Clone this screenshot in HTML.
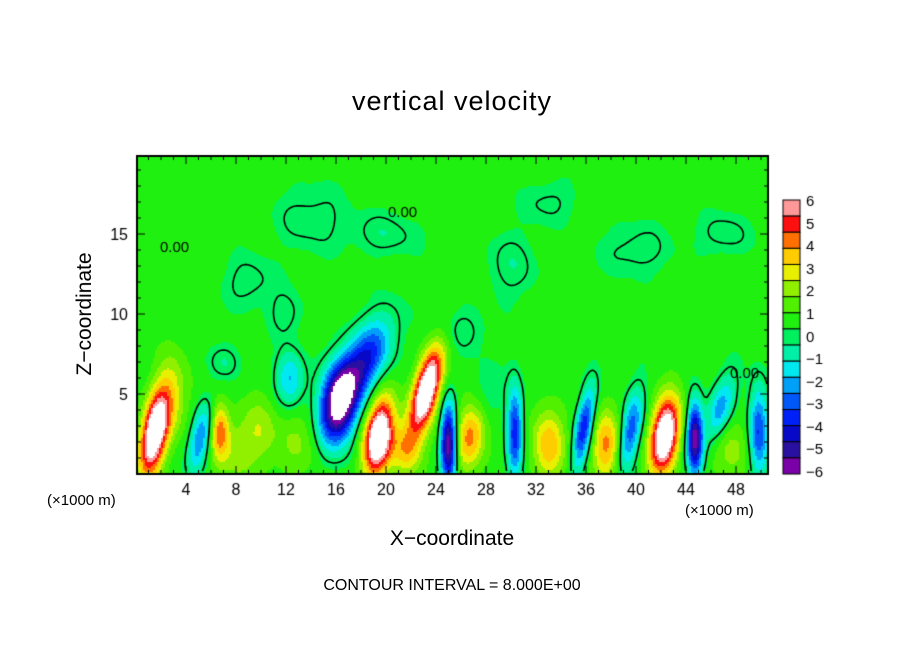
<!DOCTYPE html>
<html><head><meta charset="utf-8"><style>
body{margin:0;background:#fff;width:904px;height:654px;overflow:hidden;position:relative;font-family:"Liberation Sans",sans-serif}
.t{position:absolute;color:#000;white-space:nowrap}
</style></head><body>
<div class="t" style="left:0;width:904px;top:86px;text-align:center;font-size:27px;letter-spacing:1px">vertical velocity</div>
<canvas id="c" width="904" height="654" style="position:absolute;left:0;top:0"></canvas>
<div class="t" style="left:85px;top:314px;transform:translate(-50%,-50%) rotate(-90deg);font-size:21px">Z−coordinate</div>
<div class="t" style="left:0;width:904px;top:527px;text-align:center;font-size:21px">X−coordinate</div>
<div class="t" style="left:47px;top:492px;font-size:15px">(×1000 m)</div>
<div class="t" style="left:685px;top:502px;font-size:15px">(×1000 m)</div>
<div class="t" style="left:0;width:904px;top:577px;text-align:center;font-size:16px">CONTOUR INTERVAL = 8.000E+00</div>
<script>
const xTicks=[4,8,12,16,20,24,28,32,36,40,44,48];
const yTicks=[5,10,15];
const cbLabels=[6,5,4,3,2,1,0,-1,-2,-3,-4,-5,-6];
const blobX=[1.5,19.4,23.2,42.3,6.7,33,26.7,21.6,16.2,18.3,25,44.7,30.3,35.8,39.5,49.8,5.1,46.7,12.3,3,10,37.5,28,14,9,20,30,40,47,26,33,12,7,8,27,38,47.5,13];
const blobZ=[2.6,2.3,5.2,2.4,2.7,1.8,2.2,1.5,4.4,7.0,1.9,2.2,2.6,2.8,2.5,2.6,2.2,4,5.9,5,3,2,4.5,16,12,15,13,14,15,9,17,10,7,1.5,3,1.5,1.5,2];
const blobA=[7.4,7.6,7.4,7.4,3.4,3.2,2.5,2.5,-7.6,-4.6,-6.8,-6.4,-4.5,-4.5,-4.0,-4.0,-3.4,-3.0,-2.6,1.6,1.4,2.1,-1.3,-0.9,-0.9,-0.9,-0.9,-0.9,-0.9,-0.9,-0.8,-0.9,-0.9,1.4,1.2,1.5,1.4,1.2];
const blobSx=[0.75,0.8,0.75,0.8,0.5,0.9,0.8,0.9,1.0,1.2,0.45,0.45,0.45,0.5,0.6,0.55,0.6,0.7,0.8,0.9,0.9,0.7,0.9,2,1.5,2,1.5,2,1.5,1.5,1.5,1,1,1.5,1.5,1.2,1.2,1.2];
const blobSz=[1.9,1.7,1.9,1.7,1.2,1.6,1.5,1.1,1.75,1.85,1.8,1.6,2.0,1.8,1.8,2.0,1.5,1.5,1.2,1.9,1.5,1.5,1.5,1.5,1.2,1,1.5,1.2,1,1,1,1,0.8,1.5,1.5,1.5,1.5,1.5];
const blobTilt=[0.2,0.15,0.3,0.15,0,0,0.2,0,0.15,0.45,0,0,0,0.2,0.2,0,0.2,0.3,0,0,0,0,0,0,0,0,0,0,0,0,0,0,0,0,0,0,0,0];
const background=0.65;
const colors=["#7a00a8","#2a10a0","#0808c8","#0020f8","#0058f8","#00a0f8","#00e8f0","#00f0a8","#00f060","#20f010","#50f000","#90f000","#e8f000","#ffcc00","#ff7000","#ff1010","#ff5858","#ff9898"];
const X0=136,PX=12.5,Z0=474,PZ=16,L=137,R=768,T=156,B=474;
const sx=x=>X0+x*PX, sz=z=>Z0-z*PZ;
function field(x,z){let v=background+0.15*Math.sin(x*1.3+z*0.7)*Math.cos(z*0.9-x*0.4);
 for(let i=0;i<blobX.length;i++){const xc=blobX[i]+blobTilt[i]*(z-blobZ[i]);const dx=(x-xc)/blobSx[i],dz=(z-blobZ[i])/blobSz[i];v+=blobA[i]*Math.exp(-(dx*dx+dz*dz)/2);}return v;}
function col(v){if(v>6||v<-6)return "#ffffff";let k=Math.floor((v+6)/12*17);k=Math.max(0,Math.min(16,k));return colors[k+(k>=16?1:0)];}
const c=document.getElementById('c'),g=c.getContext('2d');
for(let py=T;py<B;py+=2)for(let px=L;px<R;px+=2){const x=(px+1-X0)/PX,z=(Z0-py-1)/PZ;g.fillStyle=col(field(x,z));g.fillRect(px,py,2,2);}
const st=3;g.strokeStyle="#000";g.lineWidth=1.6;g.beginPath();
for(let py=T;py<B-st;py+=st)for(let px=L;px<R-st;px+=st){
 const f=(a,b)=>field((a-X0)/PX,(Z0-b)/PZ);
 const a=f(px,py),b=f(px+st,py),cc=f(px+st,py+st),d=f(px,py+st);
 const pts=[];const e=(v1,v2,x1,y1,x2,y2)=>{if((v1>0)!=(v2>0)){const t=v1/(v1-v2);pts.push([x1+(x2-x1)*t,y1+(y2-y1)*t]);}};
 e(a,b,px,py,px+st,py);e(b,cc,px+st,py,px+st,py+st);e(cc,d,px+st,py+st,px,py+st);e(d,a,px,py+st,px,py);
 for(let i=0;i+1<pts.length;i+=2){g.moveTo(pts[i][0],pts[i][1]);g.lineTo(pts[i+1][0],pts[i+1][1]);}}
g.stroke();
g.lineWidth=2;g.strokeRect(L,T,R-L,B-T);g.lineWidth=1;g.fillStyle="#000";g.font="16px 'Liberation Sans',sans-serif";g.textAlign="center";
for(let x=1;x<=50;x++){const p=sx(x);const big=x%4==0;g.beginPath();g.moveTo(p,B);g.lineTo(p,B-(big?8:4));g.moveTo(p,T);g.lineTo(p,T+(big?8:4));g.stroke();}
xTicks.forEach(v=>g.fillText(v,sx(v),495));
g.textAlign="right";
for(let z=1;z<=19;z++){const p=sz(z);const big=z%5==0;g.beginPath();g.moveTo(L,p);g.lineTo(L+(big?8:4),p);g.moveTo(R,p);g.lineTo(R-(big?8:4),p);g.stroke();}
yTicks.forEach(v=>g.fillText(v,128,sz(v)+6));
g.textAlign="left";g.font="15px 'Liberation Sans',sans-serif";
[[388,217],[160,252],[730,378]].forEach(p=>{g.fillStyle="#000";g.fillText("0.00",p[0],p[1]);});
const cbT=200,cbB=474,cbL=783,cbR=800,n=17,h=(cbB-cbT)/n;
for(let i=0;i<n;i++){g.fillStyle=colors[16-i+(i==0?1:0)];g.fillRect(cbL,cbT+i*h,cbR-cbL,h);g.strokeStyle="#000";g.strokeRect(cbL,cbT+i*h,cbR-cbL,h);}
g.font="15px 'Liberation Sans',sans-serif";
cbLabels.forEach((v,i)=>{g.fillStyle="#000";g.fillText(v<0?"−"+(-v):String(v),806,cbT+6+i*(cbB-cbT-3)/12);});
</script>
</body></html>
